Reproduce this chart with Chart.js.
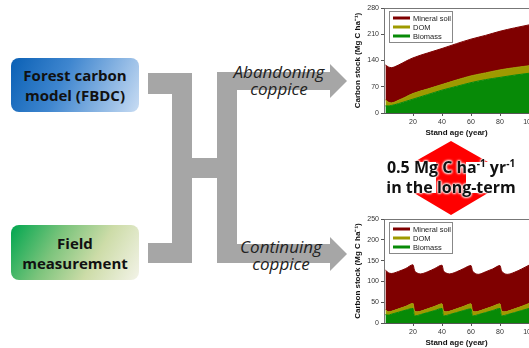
<!DOCTYPE html>
<html>
<head>
<meta charset="utf-8">
<script src="https://cdn.jsdelivr.net/npm/chart.js@4.4.1/dist/chart.umd.min.js"></script>
<style>
  html, body { margin: 0; padding: 0; }
  body { width: 529px; height: 348px; overflow: hidden; position: relative; background: #fff; font-family: "Open Sans", "Noto Sans", sans-serif; }
  .box { position: absolute; left: 11px; width: 128px; border-radius: 8px; display: flex; align-items: center; justify-content: center; text-align: center; font-weight: bold; font-size: 15px; line-height: 20px; color: #111; }
  #modelBox { top: 58px; height: 54px; background: linear-gradient(115deg, #0a60b5 0%, #3f86cf 40%, #c8dcf3 100%); }
  #fieldBox { top: 225px; height: 55px; background: linear-gradient(120deg, #00a64f 0%, #7cc47c 35%, #cddca8 65%, #f3f3e8 100%); }
  svg { position: absolute; left: 0; top: 0; }
  .path { position: absolute; width: 120px; text-align: center; font-style: italic; font-size: 17px; line-height: 17px; color: #222; }
  #rate { position: absolute; left: 371px; top: 157px; width: 160px; text-align: center; font-weight: bold; font-size: 16px; line-height: 20px; color: #111;
          text-shadow: 0 0 2px #fff, 0 0 2px #fff, 0 0 3px #fff, 0 0 3px #fff; }
  #rate sup { font-size: 10px; line-height: 0; }
  canvas { position: absolute; }
</style>
</head>
<body>
<div class="box" id="modelBox">Forest carbon<br>model (FBDC)</div>
<div class="box" id="fieldBox">Field<br>measurement</div>

<svg width="529" height="348">
  <g fill="#a6a6a6">
    <rect x="148" y="73" width="44" height="21"/>
    <rect x="172" y="73" width="20" height="190"/>
    <rect x="148" y="243" width="44" height="20"/>
    <rect x="191" y="158" width="27" height="20"/>
    <rect x="217" y="72" width="20" height="191"/>
    <rect x="236" y="72" width="96" height="18"/>
    <polygon points="330,64 347,81 330,98"/>
    <rect x="236" y="244" width="96" height="19"/>
    <polygon points="330,237 347,254 330,271"/>
  </g>
</svg>
<div class="path" style="left:219px; top:63px;">Abandoning<br>coppice</div>
<div class="path" style="left:221px; top:238px;">Continuing<br>coppice</div>

<canvas id="abandonChart" width="200" height="138" style="left:340px; top:0px;"></canvas>
<canvas id="coppiceChart" width="200" height="143" style="left:340px; top:205px;"></canvas>

<svg width="529" height="348">
  <polygon fill="#ff0000" points="451,141 488,162 466,162 466,193 488,193 451,215 414,193 436,193 436,162 414,162"/>
</svg>
<div id="rate">0.5 Mg C ha<sup>-1</sup> yr<sup>-1</sup><br>in the long-term</div>

<script>
// Axis ticks
const ageTicks = [20, 40, 60, 80, 100];
const abandonTicks = [0, 70, 140, 210, 280];
const coppiceTicks = [0, 50, 100, 150, 200, 250];

// Abandoning coppice (Mg C ha-1)
const abandonAges = [1, 3, 5, 10, 15, 20, 30, 40, 50, 60, 70, 80, 90, 100];
const abandonBiomass = [19, 19, 20, 25, 31, 37, 49, 61, 71, 81, 89, 95, 101, 106];
const abandonDom = [16, 10, 7, 9, 12, 15, 15, 15, 17, 18, 18, 20, 20, 20];
const abandonMineral = [93, 94, 94, 94, 95, 95, 96, 96, 97, 98, 100, 103, 106, 109];

// Continuing coppice, 20-year rotation (Mg C ha-1)
const coppiceAges = [1, 3, 5, 10, 15, 20, 21, 23, 25, 30, 35, 40, 41, 43, 45, 50, 55, 60, 61, 63, 65, 70, 75, 80, 81, 83, 85, 90, 95, 100];
const coppiceBiomass = [20, 19, 21, 26, 31, 35, 17, 18, 20, 25, 30, 35, 17, 18, 20, 25, 30, 34, 17, 18, 20, 25, 30, 35, 17, 18, 20, 25, 30, 35];
const coppiceDom = [12, 8, 7, 8, 9, 12, 13, 9, 8, 9, 10, 11, 13, 9, 8, 9, 10, 12, 13, 9, 8, 9, 10, 11, 13, 9, 8, 9, 10, 12];
const coppiceMineral = [95, 94, 91, 90, 91, 93, 97, 93, 90, 89, 91, 93, 96, 93, 90, 89, 91, 92, 96, 92, 89, 89, 90, 92, 96, 92, 89, 88, 90, 92];

// Colours
const mineralColor = "#7f0000";
const domColor = "#9e9a00";
const biomassColor = "#078a07";

const toPoints = (ages, values) => ages.map((x, i) => ({ x, y: values[i] }));

// Frame line on top + boxed legend inside the plot
const frameLegend = {
  id: "frameLegend",
  afterDraw(chart) {
    const { ctx, chartArea: { left, top, right, bottom } } = chart;
    ctx.save();
    ctx.strokeStyle = "#777";
    ctx.lineWidth = 1;
    ctx.beginPath();
    ctx.moveTo(left + 0.5, bottom);
    ctx.lineTo(left + 0.5, top + 0.5);
    ctx.lineTo(right, top + 0.5);
    ctx.stroke();

    const bx = left + 5;
    const by = top + 3;
    ctx.fillStyle = "#fff";
    ctx.fillRect(bx, by, 63, 31);
    ctx.strokeStyle = "#888";
    ctx.strokeRect(bx + 0.5, by + 0.5, 63, 31);
    chart.data.datasets.slice().reverse().forEach((ds, i) => {
      const y = by + 7 + i * 9;
      ctx.strokeStyle = ds.backgroundColor;
      ctx.lineWidth = 3;
      ctx.beginPath();
      ctx.moveTo(bx + 4, y);
      ctx.lineTo(bx + 21, y);
      ctx.stroke();
      ctx.fillStyle = "#222";
      ctx.font = "7.5px Arial";
      ctx.textBaseline = "middle";
      ctx.fillText(ds.label, bx + 24, y + 0.5);
    });
    ctx.restore();
  },
};

const generateStockChart = (canvasId, ages, biomass, dom, mineral, stockTicks, padTop) => {
  const layer = (label, values, color, fill) => ({
    label,
    data: toPoints(ages, values),
    backgroundColor: color,
    borderColor: color,
    borderWidth: 1,
    fill,
  });

  new Chart(document.getElementById(canvasId), {
    type: "line",
    data: {
      datasets: [
        layer("Biomass", biomass, biomassColor, "origin"),
        layer("DOM", dom, domColor, "-1"),
        layer("Mineral soil", mineral, mineralColor, "-1"),
      ],
    },
    options: {
      responsive: false,
      animation: false,
      layout: { padding: { top: padTop, right: 11, bottom: 0, left: 0 } },
      elements: {
        point: { radius: 0 },
        line: { cubicInterpolationMode: "monotone" },
      },
      plugins: { legend: { display: false }, tooltip: { enabled: false } },
      scales: {
        x: {
          type: "linear",
          min: 0,
          max: 100,
          afterBuildTicks: (s) => { s.ticks = ageTicks.map((value) => ({ value })); },
          afterFit: (s) => { s.height = 25; },
          grid: { drawOnChartArea: false, tickLength: 3, color: "#555" },
          border: { color: "#555" },
          ticks: { font: { size: 7, family: "Arial" }, color: "#333", padding: 2, maxRotation: 0 },
          title: { display: true, text: "Stand age (year)", font: { size: 8, weight: "bold", family: "Arial" }, color: "#111", padding: 0 },
        },
        y: {
          stacked: true,
          min: 0,
          max: stockTicks[stockTicks.length - 1],
          afterBuildTicks: (s) => { s.ticks = stockTicks.map((value) => ({ value })); },
          afterFit: (s) => { s.width = 44; },
          grid: { drawOnChartArea: false, tickLength: 3, color: "#555" },
          border: { color: "#555" },
          ticks: { font: { size: 7, family: "Arial" }, color: "#333", padding: 2 },
          title: { display: true, text: "Carbon stock (Mg C ha⁻¹)", font: { size: 8, weight: "bold", family: "Arial" }, color: "#111", padding: { top: 13, bottom: 0 } },
        },
      },
    },
    plugins: [frameLegend],
  });
};

generateStockChart("abandonChart", abandonAges, abandonBiomass, abandonDom, abandonMineral, abandonTicks, 8);
generateStockChart("coppiceChart", coppiceAges, coppiceBiomass, coppiceDom, coppiceMineral, coppiceTicks, 14);
</script>
</body>
</html>
